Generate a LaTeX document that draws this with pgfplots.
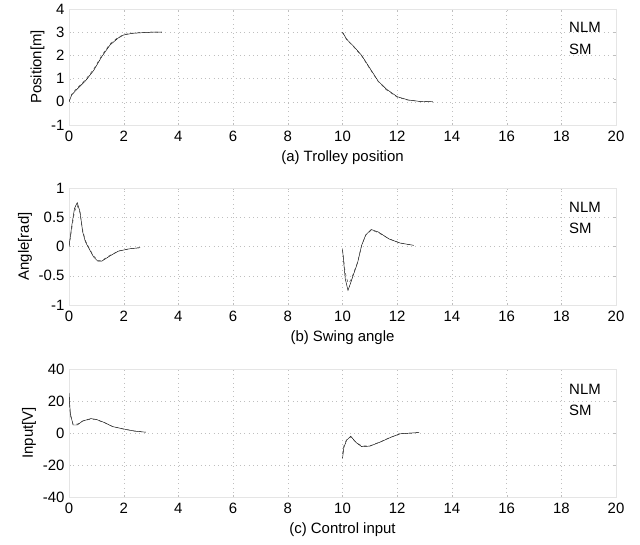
\documentclass[border=0pt]{standalone}
\usepackage{pgfplots}
\pgfplotsset{compat=1.18}
\usepackage{pgfplotstable}
\usepackage{fontspec}
\setmainfont{Liberation Sans}

\pgfplotstableread{
x y
0 0
0.1 0.3
0.3 0.55
0.6 0.9
0.9 1.35
1.2 1.95
1.5 2.45
1.8 2.75
2.0 2.88
2.3 2.95
2.7 2.98
3.0 3.0
3.4 3.0
nan nan
10 3.0
10.15 2.7
10.4 2.4
10.7 2.0
11.0 1.45
11.3 0.9
11.6 0.55
12.0 0.22
12.4 0.08
12.8 0.02
13.3 0.0
}\posNLM
\pgfplotstableread{
x y
0 0
0.1 0.33
0.3 0.6
0.6 0.95
0.9 1.4
1.2 2.0
1.5 2.5
1.8 2.78
2.0 2.9
2.3 2.96
2.7 2.99
3.0 3.0
3.4 3.0
nan nan
10 3.0
10.15 2.68
10.4 2.38
10.7 1.98
11.0 1.42
11.3 0.88
11.6 0.52
12.0 0.2
12.4 0.07
12.8 0.02
13.3 0.0
}\posSM
\pgfplotstableread{
x y
0 0
0.1 0.35
0.2 0.65
0.3 0.75
0.4 0.6
0.5 0.25
0.6 0.08
0.75 -0.05
0.9 -0.18
1.05 -0.25
1.2 -0.25
1.5 -0.16
1.8 -0.08
2.2 -0.04
2.6 -0.02
nan nan
10 -0.05
10.05 -0.3
10.1 -0.55
10.2 -0.75
10.3 -0.62
10.4 -0.48
10.55 -0.28
10.7 0.02
10.85 0.2
11.05 0.29
11.3 0.25
11.7 0.13
12.1 0.06
12.6 0.02
}\angNLM
\pgfplotstableread{
x y
0 0
0.1 0.3
0.2 0.6
0.3 0.7
0.4 0.58
0.5 0.28
0.6 0.1
0.75 -0.04
0.9 -0.16
1.05 -0.24
1.2 -0.24
1.5 -0.15
1.8 -0.08
2.2 -0.04
2.6 -0.02
nan nan
10 -0.05
10.05 -0.25
10.1 -0.45
10.2 -0.62
10.3 -0.58
10.4 -0.46
10.55 -0.27
10.7 0.02
10.85 0.19
11.05 0.28
11.3 0.24
11.7 0.13
12.1 0.06
12.6 0.02
}\angSM
\pgfplotstableread{
x y
0 25
0.05 12
0.15 5
0.3 5
0.5 7.5
0.8 9
1.0 8.5
1.3 6.5
1.6 4
2.0 2.5
2.4 1.2
2.8 0.5
nan nan
10 -16
10.05 -9
10.15 -4.5
10.3 -2
10.5 -6
10.7 -8.5
11.0 -8.2
11.4 -5.5
11.75 -2.8
12.1 -0.5
12.8 0.3
}\inNLM
\pgfplotstableread{
x y
0 22
0.05 11
0.15 5.5
0.3 5.5
0.5 7.5
0.8 8.7
1.0 8.3
1.3 6.4
1.6 4
2.0 2.4
2.4 1.2
2.8 0.5
nan nan
10 -13
10.05 -8
10.15 -4
10.3 -2.5
10.5 -6
10.7 -8
11.0 -8
11.4 -5.4
11.75 -2.7
12.1 -0.5
12.8 0.3
}\inSM

\pgfplotsset{
  myax/.style={
    scale only axis, width=547bp,
    xmin=0, xmax=20, xtick={0,2,...,20},
    font=\fontsize{15}{17}\selectfont,
    /pgf/number format/assume math mode=true,
    grid=major,
    major grid style={loosely dotted, black!25, line width=0.3pt},
    axis line style={black!10},
    tick style={black!25},
    major tick length=2bp,
    unbounded coords=jump,
    legend cell align=left,
    legend style={draw=none, fill=none, at={(0.978,0.91)}, anchor=north east,
      font=\fontsize{15}{17}\selectfont, row sep=6bp, inner sep=1bp},
    legend image code/.code={},
    xticklabel style={yshift=-3bp},
    yticklabel style={xshift=-1bp},
    xlabel style={yshift=-2bp},
  },
  nlm/.style={black, line width=0.45pt},
  sm/.style={black!75, dashed, line width=0.45pt},
}

\begin{document}
\begin{tikzpicture}[x=1bp,y=1bp]
\begin{axis}[myax, at={(69bp,-125bp)}, anchor=south west, height=116bp,
  ymin=-1, ymax=4, ytick={-1,0,1,2,3,4},
  ylabel={Position[m]}, xlabel={(a) Trolley position}]
\addplot[nlm] table[x=x,y=y] {\posNLM};
\addplot[sm] table[x=x,y=y] {\posSM};
\legend{NLM,SM}
\end{axis}
\begin{axis}[myax, at={(69bp,-305bp)}, anchor=south west, height=117bp,
  ymin=-1, ymax=1, ytick={-1,-0.5,0,0.5,1},
  ylabel={Angle[rad]}, xlabel={(b) Swing angle}]
\addplot[nlm] table[x=x,y=y] {\angNLM};
\addplot[sm] table[x=x,y=y] {\angSM};
\legend{NLM,SM}
\end{axis}
\begin{axis}[myax, at={(69bp,-497bp)}, anchor=south west, height=128bp,
  ymin=-40, ymax=40, ytick={-40,-20,0,20,40},
  ylabel={Input[V]}, xlabel={(c) Control input}]
\addplot[nlm] table[x=x,y=y] {\inNLM};
\addplot[sm] table[x=x,y=y] {\inSM};
\legend{NLM,SM}
\end{axis}
\pgfresetboundingbox
\path[use as bounding box] (0,-545) rectangle (640,0);
\end{tikzpicture}
\end{document}
